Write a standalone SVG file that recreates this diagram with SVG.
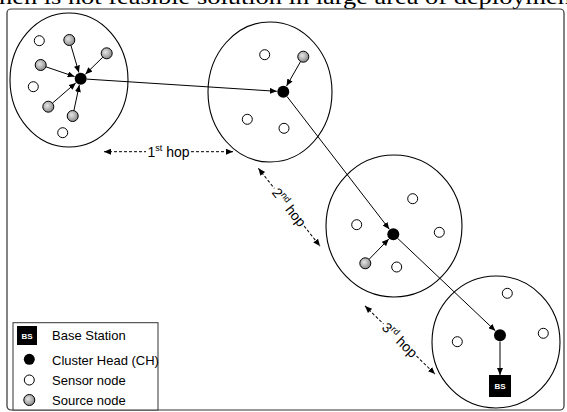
<svg xmlns="http://www.w3.org/2000/svg" width="567" height="412" viewBox="0 0 567 412">
  <style>
    .cluster { fill: none; stroke: #000; stroke-width: 1.1; }
    .sensor { fill: #fff; stroke: #000; stroke-width: 1; }
    .source { fill: url(#srcGrad); stroke: #000; stroke-width: 1; }
    .ch { fill: #000; }
    .link { stroke: #000; stroke-width: 1; fill: none; marker-end: url(#arrow); }
    .hop { stroke: #000; stroke-width: 1; fill: none; stroke-dasharray: 3 2; }
    .lbl { font-family: "Liberation Sans", Arial, sans-serif; font-size: 13px; fill: #000; }
    .hoplbl { font-family: "Liberation Sans", Arial, sans-serif; font-size: 14px; fill: #000; }
    .bs { font-family: "Liberation Sans", Arial, sans-serif; font-size: 8px; font-weight: bold; fill: #fff; }
  </style>
  <defs>
    <radialGradient id="srcGrad" cx="0.4" cy="0.4" r="0.6">
      <stop offset="0" stop-color="#e6e6e6"/>
      <stop offset="1" stop-color="#8c8c8c"/>
    </radialGradient>
    <marker id="arrow" markerUnits="userSpaceOnUse" markerWidth="8" markerHeight="6" refX="7" refY="3" orient="auto">
      <path d="M0,0 L7,3 L0,6 z" fill="#000"/>
    </marker>
    <marker id="arrowStart" markerUnits="userSpaceOnUse" markerWidth="8" markerHeight="6" refX="0" refY="3" orient="auto">
      <path d="M7,0 L0,3 L7,6 z" fill="#000"/>
    </marker>
  </defs>

  <rect width="567" height="412" fill="#fff"/>

  <!-- running text line from the page above the figure -->
  <text x="-1" y="4" font-family="'Liberation Serif', 'Times New Roman', serif" font-size="22" textLength="572" lengthAdjust="spacingAndGlyphs">hen is not feasible solution in large area of deploymen</text>

  <!-- figure frame -->
  <rect x="7" y="9" width="557" height="401" rx="4" fill="none" stroke="#333" stroke-width="1.2"/>

  <!-- cluster boundaries -->
  <g id="clusters">
    <ellipse class="cluster" cx="69" cy="80" rx="59" ry="67"/>
    <ellipse class="cluster" cx="270" cy="92" rx="62" ry="70"/>
    <ellipse class="cluster" cx="394" cy="226" rx="68" ry="71"/>
    <ellipse class="cluster" cx="496" cy="342" rx="64" ry="66"/>
  </g>

  <!-- connectors -->
  <g id="connectors">
    <line class="link" x1="70.9" y1="45.3" x2="78.9" y2="72.5"/>
    <line class="link" x1="102.8" y1="57.2" x2="85.4" y2="74.2"/>
    <line class="link" x1="45.9" y1="66.8" x2="74.6" y2="76.6"/>
    <line class="link" x1="52.5" y1="103.1" x2="75.8" y2="82.9"/>
    <line class="link" x1="73.9" y1="110.6" x2="79.3" y2="85.1"/>
    <line class="link" x1="86.7" y1="79.1" x2="276.8" y2="91.3"/>
    <line class="link" x1="300.6" y1="61.5" x2="286.5" y2="86.1"/>
    <line class="link" x1="287" y1="96.5" x2="389.3" y2="229.2"/>
    <line class="link" x1="369.1" y1="259.3" x2="388.8" y2="239"/>
    <line class="link" x1="397.7" y1="238.4" x2="495.3" y2="330.8"/>
    <line class="link" x1="500" y1="341.5" x2="500" y2="375"/>
  </g>

  <!-- cluster 1 -->
  <g id="cluster1">
    <circle class="sensor" cx="39.3" cy="40.7" r="5"/>
    <circle class="source" cx="69.3" cy="40" r="5.5"/>
    <circle class="source" cx="106.7" cy="53.3" r="5.5"/>
    <circle class="source" cx="40.7" cy="65" r="5.5"/>
    <circle class="sensor" cx="33.3" cy="86.7" r="5"/>
    <circle class="source" cx="48.3" cy="106.7" r="5.5"/>
    <circle class="source" cx="72.7" cy="116" r="5.5"/>
    <circle class="sensor" cx="62.7" cy="132.7" r="5"/>
    <circle id="ch1" class="ch" cx="80.7" cy="78.7" r="6"/>
  </g>

  <!-- cluster 2 -->
  <g id="cluster2">
    <circle class="sensor" cx="264.7" cy="54.7" r="5"/>
    <circle class="source" cx="303.3" cy="56.7" r="5.5"/>
    <circle class="sensor" cx="247.3" cy="119.3" r="5"/>
    <circle class="sensor" cx="284" cy="128.3" r="5"/>
    <circle id="ch2" class="ch" cx="283.3" cy="91.7" r="6"/>
  </g>

  <!-- cluster 3 -->
  <g id="cluster3">
    <circle class="sensor" cx="412.7" cy="198.7" r="5"/>
    <circle class="sensor" cx="356.7" cy="224.7" r="5"/>
    <circle class="sensor" cx="439.3" cy="232.3" r="5"/>
    <circle class="source" cx="365.3" cy="263.3" r="5.5"/>
    <circle class="sensor" cx="396.7" cy="267" r="5"/>
    <circle id="ch3" class="ch" cx="393.3" cy="234.3" r="6"/>
  </g>

  <!-- cluster 4 with base station -->
  <g id="cluster4">
    <circle class="sensor" cx="507.3" cy="293.3" r="5"/>
    <circle class="sensor" cx="543.3" cy="333.3" r="5"/>
    <circle class="sensor" cx="457.3" cy="341.7" r="5"/>
    <circle id="ch4" class="ch" cx="500" cy="335.3" r="6"/>
  </g>
  <g id="bs">
    <rect x="489" y="375" width="22" height="22" fill="#000"/>
    <text class="bs" x="500" y="389" text-anchor="middle">BS</text>
  </g>

  <!-- hop distance labels -->
  <g id="hop1">
    <line class="hop" x1="104" y1="151.7" x2="146" y2="151.7" marker-start="url(#arrowStart)"/>
    <line class="hop" x1="191" y1="151.7" x2="233" y2="151.7" marker-end="url(#arrow)"/>
    <text class="hoplbl" x="168.5" y="156.5" text-anchor="middle">1<tspan font-size="9" dy="-5.5">st</tspan><tspan dy="5.5"> hop</tspan></text>
  </g>
  <g id="hop2" transform="translate(289.2 207.2) rotate(51.6)">
    <line class="hop" x1="-49.6" y1="0" x2="-24" y2="0" marker-start="url(#arrowStart)"/>
    <line class="hop" x1="24" y1="0" x2="49.6" y2="0" marker-end="url(#arrow)"/>
    <text class="hoplbl" x="0" y="5" text-anchor="middle">2<tspan font-size="9" dy="-5.5">nd</tspan><tspan dy="5.5"> hop</tspan></text>
  </g>
  <g id="hop3" transform="translate(400 340) rotate(44.2)">
    <line class="hop" x1="-48.8" y1="0" x2="-23" y2="0" marker-start="url(#arrowStart)"/>
    <line class="hop" x1="23" y1="0" x2="48.8" y2="0" marker-end="url(#arrow)"/>
    <text class="hoplbl" x="0" y="5" text-anchor="middle">3<tspan font-size="9" dy="-5.5">rd</tspan><tspan dy="5.5"> hop</tspan></text>
  </g>

  <!-- legend -->
  <g id="legend">
    <rect x="13" y="322.7" width="145" height="87.3" fill="#fff" stroke="#333" stroke-width="1"/>
    <rect x="17" y="326" width="20" height="19" fill="#000"/>
    <text class="bs" x="27" y="338.5" text-anchor="middle">BS</text>
    <text class="lbl" x="52" y="340">Base Station</text>
    <circle class="ch" cx="29.3" cy="359.3" r="5.5"/>
    <text class="lbl" x="52" y="364.5">Cluster Head (CH)</text>
    <circle class="sensor" cx="29.3" cy="380" r="5"/>
    <text class="lbl" x="52" y="385">Sensor node</text>
    <circle class="source" cx="29.3" cy="400" r="5.5"/>
    <text class="lbl" x="52" y="405">Source node</text>
  </g>
</svg>
